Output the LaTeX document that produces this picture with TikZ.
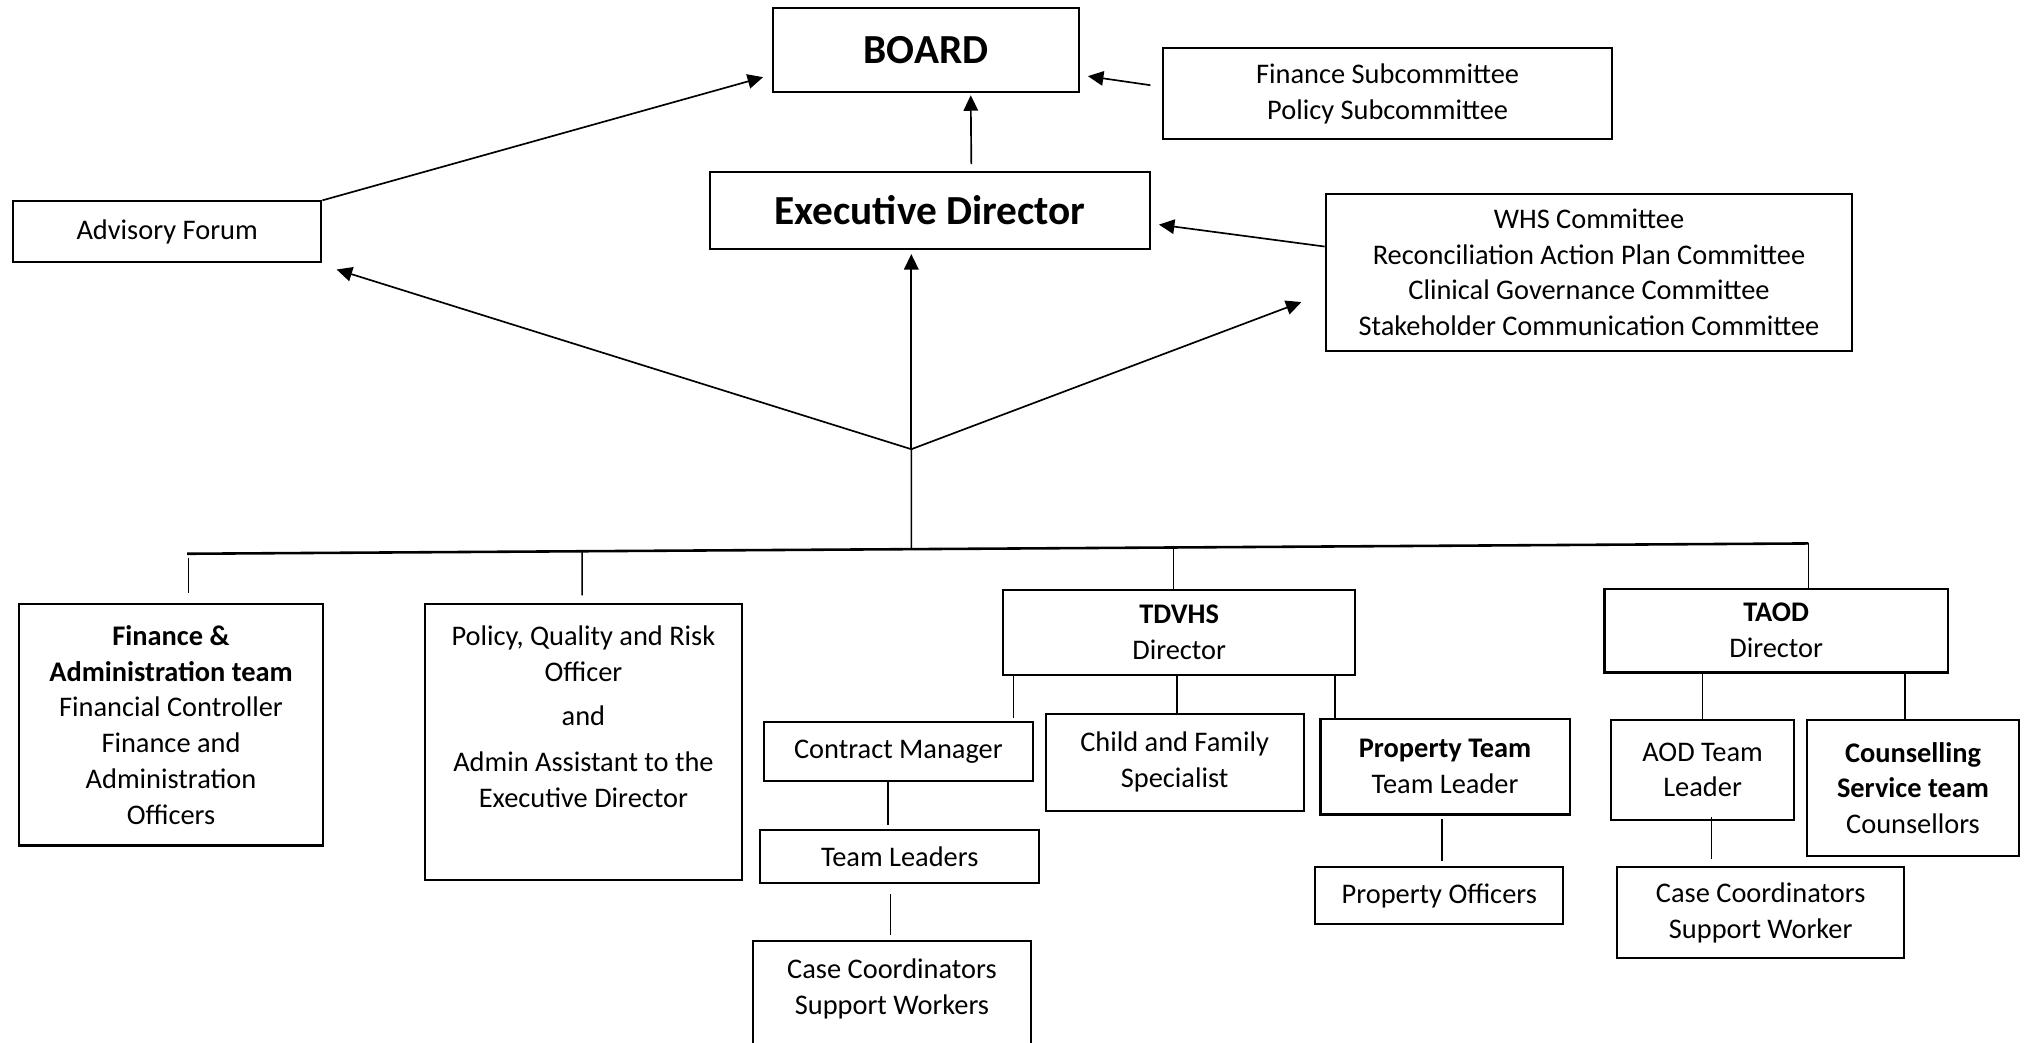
\documentclass[tikz,border=0pt]{standalone}
\usepackage{fontspec}
\setmainfont{Carlito}
\usetikzlibrary{arrows.meta,calc}
\tikzset{
  box/.style={draw, line width=0.8pt, inner sep=0pt, align=center, font=\fontsize{11}{13.85}\selectfont},
  bigbox/.style={box, font=\fontsize{16}{19}\selectfont\bfseries},
  sz/.style 2 args={minimum width=#1, minimum height=#2},
  conn/.style={line width=0.6pt},
  bus/.style={line width=1pt},
  arr/.style={line width=0.65pt, -{Triangle[length=6pt,width=5.6pt]}},
}
\begin{document}
\begin{tikzpicture}[x=0.5pt,y=-0.5pt]
\useasboundingbox[fill=white] (0,0) rectangle (1568,808);

% top level
\node[bigbox, sz={118.5pt}{32.5pt}] (board) at (717.5,38.5) {BOARD};
\node[box, sz={174pt}{35.5pt}] (finsub) at (1075,72.5) {Finance Subcommittee\\Policy Subcommittee};
\node[bigbox, sz={170.5pt}{30pt}] (exec) at (720.5,163) {Executive Director};
\node[box, sz={204pt}{61pt}] (whs) at (1231,211) {WHS Committee\\Reconciliation Action Plan Committee\\Clinical Governance Committee\\Stakeholder Communication Committee};
\node[box, sz={119.5pt}{23.5pt}] (adv) at (129.5,179.5) {Advisory Forum};

% second level
\node[box, sz={117.5pt}{93.5pt}] (fin) at (132.5,561.5) {\textbf{Finance \&}\\\textbf{Administration team}\\Financial Controller\\Finance and\\Administration\\Officers};
\node[box, sz={123pt}{107pt}] (pqr) at (452,575) {Policy, Quality and Risk\\Officer\\[3pt]and\\[4pt]Admin Assistant to the\\Executive Director\\[6pt]\mbox{}};
\node[box, sz={136.5pt}{33pt}] (tdvhs) at (913.5,490) {\textbf{TDVHS}\\Director};
\node[box, sz={133pt}{32.5pt}] (taod) at (1376,488.5) {\textbf{TAOD}\\Director};

% TDVHS branch
\node[box, sz={104pt}{23pt}] (cm) at (696,582) {Contract Manager};
\node[box, sz={100pt}{37.5pt}] (cf) at (910,590.5) {Child and Family\\Specialist};
\node[box, sz={96.5pt}{37pt}] (prop) at (1119.5,594) {\textbf{Property Team}\\Team Leader};
\node[box, sz={108pt}{20.5pt}] (tl) at (697,663.5) {Team Leaders};
\node[box, draw=none, sz={107pt}{36pt}] (cc1) at (691,766) {Case Coordinators\\Support Workers};
\draw[line width=0.8pt] ($(cc1.north west)+(0,100)$) -- (cc1.north west) -- (cc1.north east) -- ($(cc1.north east)+(0,100)$);
\node[box, sz={96pt}{22pt}] (po) at (1115,694) {Property Officers};

% TAOD branch
\node[box, sz={71pt}{38.5pt}] (aod) at (1319,596.5) {AOD Team\\Leader};
\node[box, sz={82pt}{52.5pt}] (couns) at (1482,610.5) {\textbf{Counselling}\\\textbf{Service team}\\Counsellors};
\node[box, sz={111pt}{35pt}] (cc2) at (1364,707) {Case Coordinators\\Support Worker};

% arrows at the top
\coordinate (J) at (706,348);
\coordinate (busL) at (145,429);
\coordinate (busR) at (1401,421);
\draw[arr] (adv.north east) -- ($(board.south west)+(-7,-12)$);
\draw[arr] ($(finsub.west)+(-9,-6.5)$) -- ($(board.east)+(6,20.5)$);
\draw[arr] ($(exec.north)+(32,-5)$) -- ($(board.south)+(34.5,2)$);
\draw[arr] ($(whs.west)+(0,-20)$) -- ($(exec.east)+(6,11)$);
\draw[arr] (J) -- ($(adv.south east)+(11,5)$);
\draw[arr] (J) -- ($(exec.south)+(-14.5,3)$);
\draw[arr] (J) -- ($(whs.west)+(-18,23)$);
\draw[conn] (J) -- ($(busL)!0.4467!(busR)$);
\draw[bus] (busL) -- (busR);

% drops from bus
\draw[conn] ($(busL)+(1,3)$) -- ($(fin.north)+(13.5,-8)$);
\draw[conn] ($(busL)!0.2436!(busR)$) -- ($(pqr.north)+(-1,-6)$);
\draw[conn] ($(busL)!0.6083!(busR)$) coordinate (bt) -- (bt |- tdvhs.north);
\draw[conn] (busR) -- (busR |- taod.north);

% TDVHS children
\draw[conn] ($(tdvhs.south west)+(9,0)$) coordinate (t1) -- ($(t1 |- cm.north)+(0,-2)$);
\draw[conn] ($(cf.north)+(2,0)$) coordinate (t2) -- (t2 |- tdvhs.south);
\draw[conn] ($(prop.north west)+(12,0)$) coordinate (t3) -- (t3 |- tdvhs.south);
\draw[conn] ($(cm.south)+(-8,0)$) coordinate (t4) -- ($(t4 |- tl.north)+(0,-3)$);
\draw[conn] ($(tl.south)+(-7,8)$) coordinate (t5) -- ($(t5 |- cc1.north)+(0,-5)$);
\draw[conn] ($(prop.south)+(-2.5,3)$) coordinate (t6) -- ($(t6 |- po.north)+(0,-4)$);

% TAOD children
\draw[conn] (aod.north) -- (aod.north |- taod.south);
\draw[conn] ($(couns.north)+(-6,0)$) coordinate (t7) -- (t7 |- taod.south);
\draw[conn] ($(aod.south)+(7,-3)$) coordinate (t8) -- ($(t8 |- cc2.north)+(0,-6)$);
\end{tikzpicture}
\end{document}
